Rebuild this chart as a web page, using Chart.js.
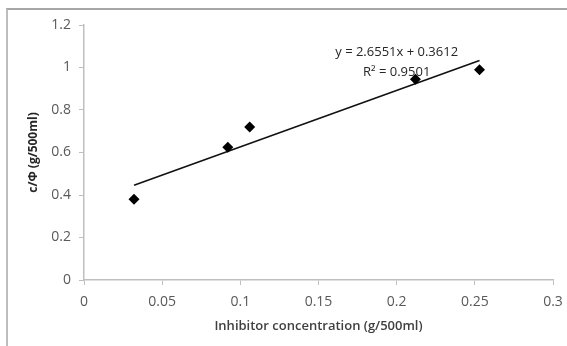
<!DOCTYPE html>
<html lang="en">
<head>
  <meta charset="UTF-8">
  <title>Inhibitor concentration vs c/Φ</title>
  <script src="https://cdn.jsdelivr.net/npm/chart.js"></script>
  <style>
    body {
      margin: 0;
      background: #fff;
    }
    .wrap {
      position: relative;
      width: 567px;
      height: 346px;
    }
    .frame {
      position: absolute;
      left: 6px;
      top: 8px;
      right: 0;
      bottom: 0;
      border-top: 2px solid #a6a6a6;
      border-left: 2px solid #bdbdbd;
      pointer-events: none;
    }
  </style>
</head>
<body>
  <div class="wrap">
    <canvas id="chart" width="567" height="346"></canvas>
    <div class="frame"></div>
  </div>

  <script>
    // measured points
    const concentration = [0.032, 0.092, 0.106, 0.212, 0.253];
    const cPhi = [0.38, 0.625, 0.72, 0.945, 0.99];

    // linear trendline from the chart
    const slope = 2.6551;
    const intercept = 0.3612;
    const equationText = 'y = 2.6551x + 0.3612';
    const r2Text = 'R² = 0.9501';

    const xTicks = [0, 0.05, 0.1, 0.15, 0.2, 0.25, 0.3];
    const yTicks = [0, 0.2, 0.4, 0.6, 0.8, 1, 1.2];

    const points = concentration.map((x, i) => ({ x: x, y: cPhi[i] }));
    const xMin = Math.min(...concentration);
    const xMax = Math.max(...concentration);
    const trend = [
      { x: xMin, y: slope * xMin + intercept },
      { x: xMax, y: slope * xMax + intercept }
    ];

    // equation label above the right end of the line
    const equationLabel = {
      id: 'equationLabel',
      afterDatasetsDraw(chart) {
        const ctx = chart.ctx;
        const xs = chart.scales.x, ys = chart.scales.y;
        const cx = xs.getPixelForValue(0.2);
        ctx.save();
        ctx.font = '13px "Open Sans"';
        ctx.fillStyle = '#262626';
        ctx.textAlign = 'center';
        ctx.textBaseline = 'middle';
        ctx.fillText(equationText, cx, ys.getPixelForValue(1.072));
        ctx.fillText(r2Text, cx, ys.getPixelForValue(0.978));
        ctx.restore();
      }
    };

    const fmt = v => String(+Number(v).toFixed(2));

    new Chart(document.getElementById('chart'), {
      type: 'scatter',
      data: {
        datasets: [
          {
            data: points,
            pointStyle: 'rectRot',
            pointRadius: 5.5,
            backgroundColor: '#000',
            borderColor: '#000',
            borderWidth: 0
          },
          {
            type: 'line',
            data: trend,
            borderColor: '#111',
            borderWidth: 1.6,
            pointRadius: 0,
            fill: false
          }
        ]
      },
      options: {
        responsive: false,
        animation: false,
        layout: { padding: { top: 25, right: 14, left: 0, bottom: 0 } },
        plugins: {
          legend: { display: false },
          tooltip: { enabled: false }
        },
        scales: {
          x: {
            type: 'linear',
            min: 0,
            max: 0.3,
            // fixed box so the plot area sits where the original one does
            afterFit: s => { s.height = 66; s.paddingLeft = 0; s.paddingRight = 0; },
            afterBuildTicks: s => { s.ticks = xTicks.map(v => ({ value: v })); },
            grid: { drawOnChartArea: false, tickLength: 5, color: '#bfbfbf' },
            border: { color: '#bfbfbf', width: 1.5 },
            ticks: {
              callback: fmt,
              padding: 9,
              maxRotation: 0,
              color: '#595959',
              font: { family: 'Open Sans', size: 14 }
            },
            title: {
              display: true,
              text: 'Inhibitor concentration (g/500ml)',
              color: '#404040',
              font: { family: 'Open Sans', size: 13, weight: '600' },
              padding: { top: 0, bottom: 12 }
            }
          },
          y: {
            min: 0,
            max: 1.2,
            afterFit: s => { s.width = 84; s.paddingTop = 0; s.paddingBottom = 0; },
            afterBuildTicks: s => { s.ticks = yTicks.map(v => ({ value: v })); },
            grid: { drawOnChartArea: false, tickLength: 5, color: '#bfbfbf' },
            border: { color: '#bfbfbf', width: 1.5 },
            ticks: {
              callback: fmt,
              padding: 8,
              color: '#595959',
              font: { family: 'Open Sans', size: 14 }
            },
            title: {
              display: true,
              text: 'c/Φ (g/500ml)',
              color: '#262626',
              font: { family: 'Open Sans', size: 12, weight: 'bold' },
              padding: { top: 26, bottom: 0 }
            }
          }
        }
      },
      plugins: [equationLabel]
    });
  </script>
</body>
</html>
